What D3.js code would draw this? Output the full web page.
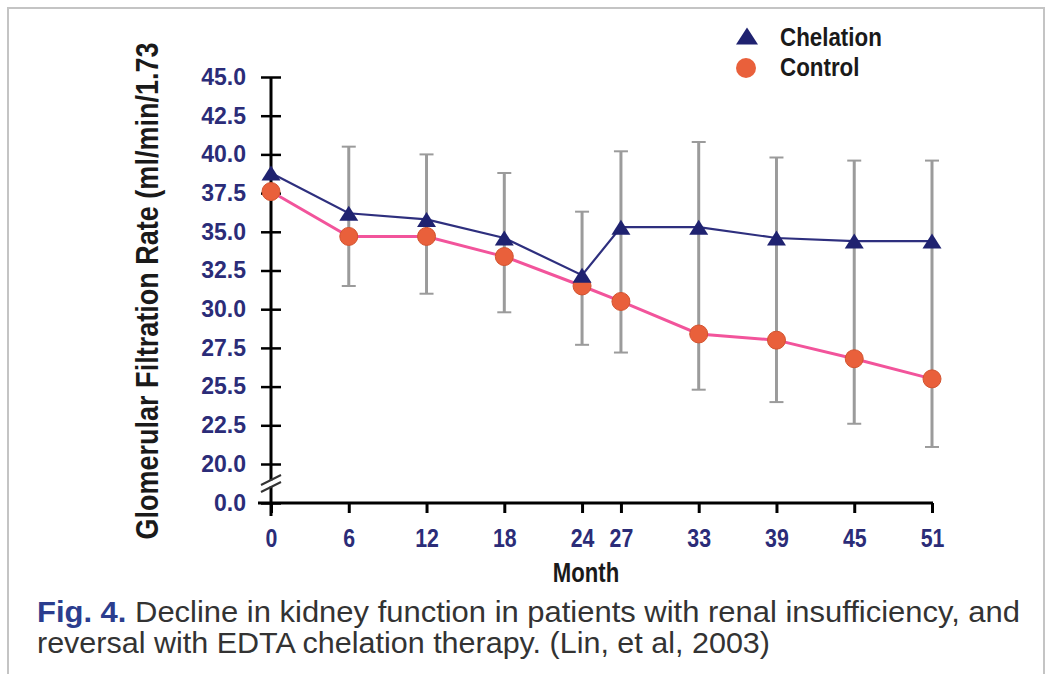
<!DOCTYPE html>
<html>
<head>
<meta charset="utf-8">
<script src="https://cdn.jsdelivr.net/npm/d3@7"></script>
<style>
  body { margin: 0; background: #fff; }
  svg { display: block; }
</style>
</head>
<body>
<div id="chart"></div>
<script>
// ---------------- data ----------------
const months = [0, 6, 12, 18, 24, 27, 33, 39, 45, 51];
const chelation = [38.8, 36.2, 35.8, 34.6, 32.2, 35.3, 35.3, 34.6, 34.4, 34.4];
const control = [37.6, 34.7, 34.7, 33.4, 31.5, 30.5, 28.4, 28.0, 26.8, 25.5];
const errHigh = [null, 40.5, 40.0, 38.8, 36.3, 40.2, 40.8, 39.8, 39.6, 39.6];
const errLow = [null, 31.5, 31.0, 29.8, 27.7, 27.2, 24.8, 24.0, 22.6, 21.1];
const yTicks = [0, 20, 22.5, 25, 27.5, 30, 32.5, 35, 37.5, 40, 42.5, 45];
const yTickLabels = ['0.0', '20.0', '22.5', '25.5', '27.5', '30.0', '32.5', '35.0', '37.5', '40.0', '42.5', '45.0'];
const seriesNames = ['Chelation', 'Control'];

// no condensed face installed, so Arial-metric text gets squeezed where needed
const font = "'Liberation Sans', Arial, sans-serif";
const navy = '#1f2270';
const tickText = '#2b2c78';

const svg = d3.select('#chart')
    .append('svg')
    .attr('width', 1052)
    .attr('height', 674);

// frame
svg.append('rect')
    .attr('x', 8).attr('y', 8)
    .attr('width', 1036).attr('height', 680)
    .attr('fill', 'none')
    .attr('stroke', '#c4c4c4')
    .attr('stroke-width', 2);

const x = d3.scaleLinear().domain([0, 51]).range([271, 932]);
// broken axis: 0 sits just under 20
const y = d3.scaleLinear().domain([0, 20, 45]).range([503, 464, 77]);

// y axis
const yAxis = svg.append('g')
    .attr('transform', `translate(${x(0)},0)`)
    .call(d3.axisLeft(y)
        .tickValues(yTicks)
        .tickFormat((d, i) => yTickLabels[i])
        .tickSize(10)
        .tickPadding(15));
yAxis.select('.domain').remove();
yAxis.append('line')
    .attr('y1', y(45)).attr('y2', y(0) + 13)
    .attr('stroke', '#000').attr('stroke-width', 3);
yAxis.selectAll('.tick line')
    .attr('x1', -10).attr('x2', 10)
    .attr('stroke', '#000').attr('stroke-width', 2.5);
yAxis.selectAll('.tick text')
    .style('font-family', font)
    .style('font-weight', 'bold')
    .style('font-size', '23px')
    .attr('fill', tickText);

// break marks between 0 and 20
const brk = (y(0) + y(20)) / 2;
svg.append('rect')
    .attr('x', x(0) - 3).attr('y', brk - 3)
    .attr('width', 6).attr('height', 6)
    .attr('fill', '#fff');
[-3.5, 3.5].forEach(off => {
    svg.append('line')
        .attr('x1', x(0) - 10).attr('y1', brk + off + 5)
        .attr('x2', x(0) + 10).attr('y2', brk + off - 5)
        .attr('stroke', '#333').attr('stroke-width', 2);
});

// x axis
const xAxis = svg.append('g')
    .attr('transform', `translate(0,${y(0)})`)
    .call(d3.axisBottom(x)
        .tickValues(months)
        .tickFormat(d3.format('d'))
        .tickSize(10));
xAxis.select('.domain').remove();
xAxis.append('line')
    .attr('x1', x(0) - 13).attr('x2', x(51) + 1)
    .attr('stroke', '#000').attr('stroke-width', 3);
xAxis.selectAll('.tick line')
    .attr('stroke', '#000').attr('stroke-width', 3);
xAxis.selectAll('.tick text')
    .attr('y', 0).attr('dy', 0)
    .attr('transform', 'translate(0,44) scale(0.82,1)')
    .style('font-family', font)
    .style('font-weight', 'bold')
    .style('font-size', '26px')
    .attr('fill', tickText);

// axis titles
svg.append('text')
    .attr('transform', 'translate(586,582) scale(0.82,1)')
    .attr('text-anchor', 'middle')
    .style('font-family', font)
    .style('font-weight', 'bold')
    .style('font-size', '27px')
    .attr('fill', '#1a1a1a')
    .text('Month');

// tall narrow look: smaller face stretched across its height
svg.append('text')
    .attr('transform', 'translate(158,291) rotate(-90) scale(1.04,1.2)')
    .attr('text-anchor', 'middle')
    .style('font-family', font)
    .style('font-weight', 'bold')
    .style('font-size', '26px')
    .attr('fill', '#1a1a1a')
    .text('Glomerular Filtration Rate (ml/min/1.73');

// error bars
const bars = months.map((m, i) => ({ m, lo: errLow[i], hi: errHigh[i] }))
    .filter(d => d.lo !== null);
const eb = svg.append('g')
    .attr('stroke', '#9b9b9b')
    .attr('stroke-width', 3);
eb.selectAll('line.v')
    .data(bars).enter().append('line')
    .attr('x1', d => x(d.m)).attr('x2', d => x(d.m))
    .attr('y1', d => y(d.hi)).attr('y2', d => y(d.lo));
eb.selectAll('line.top')
    .data(bars).enter().append('line')
    .attr('x1', d => x(d.m) - 7).attr('x2', d => x(d.m) + 7)
    .attr('y1', d => y(d.hi)).attr('y2', d => y(d.hi))
    .attr('stroke-width', 2);
eb.selectAll('line.bot')
    .data(bars).enter().append('line')
    .attr('x1', d => x(d.m) - 7).attr('x2', d => x(d.m) + 7)
    .attr('y1', d => y(d.lo)).attr('y2', d => y(d.lo))
    .attr('stroke-width', 2);

// lines
const line = d3.line()
    .x((d, i) => x(months[i]))
    .y(d => y(d));

svg.append('path')
    .datum(control)
    .attr('d', line)
    .attr('fill', 'none')
    .attr('stroke', '#f2549b')
    .attr('stroke-width', 3);

svg.append('path')
    .datum(chelation)
    .attr('d', line)
    .attr('fill', 'none')
    .attr('stroke', '#2e2f7e')
    .attr('stroke-width', 2.2);

// markers
const tri = (w, h) => `M${-w / 2},${h / 2}L${w / 2},${h / 2}L0,${-h / 2}Z`;

svg.selectAll('circle.ctrl')
    .data(control).enter().append('circle')
    .attr('cx', (d, i) => x(months[i]))
    .attr('cy', d => y(d))
    .attr('r', 9)
    .attr('fill', '#e9603b')
    .attr('stroke', '#d3532f')
    .attr('stroke-width', 1);

svg.selectAll('path.chel')
    .data(chelation).enter().append('path')
    .attr('d', tri(19, 15))
    .attr('transform', (d, i) => `translate(${x(months[i])},${y(d)})`)
    .attr('fill', navy);

// legend
const legend = svg.append('g');
legend.append('path')
    .attr('d', tri(22, 17))
    .attr('transform', 'translate(747,36)')
    .attr('fill', navy);
legend.append('circle')
    .attr('cx', 746).attr('cy', 68).attr('r', 10)
    .attr('fill', '#e9603b');
legend.selectAll('text')
    .data(seriesNames).enter().append('text')
    .attr('transform', (d, i) => `translate(780,${46 + i * 30}) scale(0.86,1)`)
    .style('font-family', font)
    .style('font-weight', 'bold')
    .style('font-size', '26px')
    .attr('fill', '#1a1a1a')
    .text(d => d);

// caption
const cap1 = svg.append('text')
    .attr('x', 37).attr('y', 622)
    .attr('textLength', 983)
    .attr('lengthAdjust', 'spacingAndGlyphs')
    .style('font-family', font)
    .style('font-size', '30px')
    .attr('fill', '#333');
cap1.append('tspan')
    .attr('fill', '#2b3d8e')
    .style('font-weight', 'bold')
    .text('Fig. 4.');
cap1.append('tspan')
    .text(' Decline in kidney function in patients with renal insufficiency, and');

svg.append('text')
    .attr('x', 37).attr('y', 653)
    .attr('textLength', 733)
    .attr('lengthAdjust', 'spacingAndGlyphs')
    .style('font-family', font)
    .style('font-size', '30px')
    .attr('fill', '#333')
    .text('reversal with EDTA chelation therapy. (Lin, et al, 2003)');
</script>
</body>
</html>
